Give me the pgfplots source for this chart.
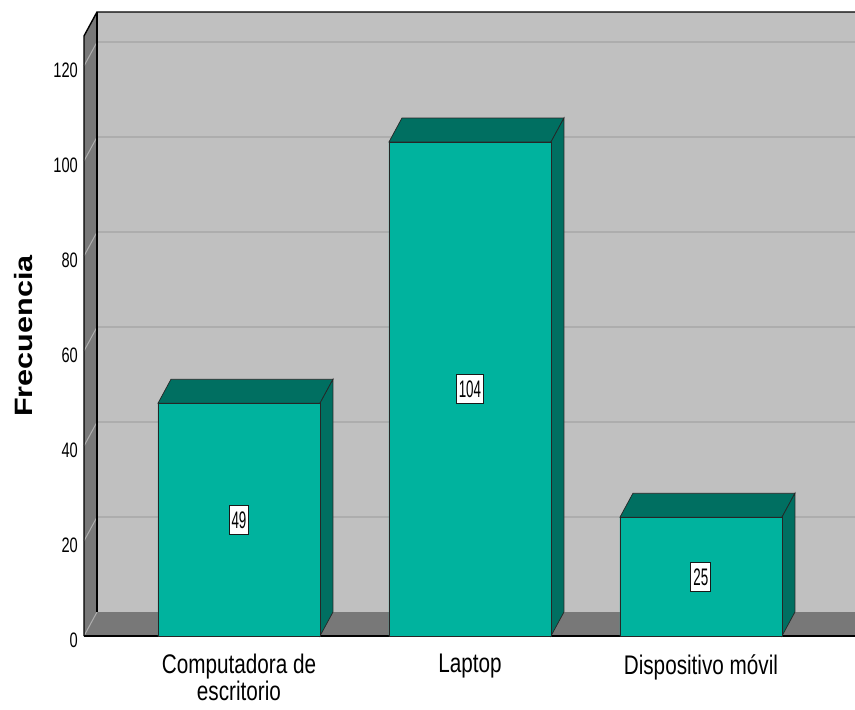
\documentclass[border=0pt]{standalone}
\usepackage{pgfplots}
\pgfplotsset{compat=1.18}
\usepackage{fontspec}
\setmainfont{Liberation Sans}
\newfontfamily\tickfont[FakeStretch=0.70]{Liberation Sans}
\newfontfamily\catfont[FakeStretch=0.77]{Liberation Sans}
\newfontfamily\valfont[FakeStretch=0.56]{Liberation Sans}

\definecolor{barfront}{HTML}{00B39E}
\definecolor{bardark}{HTML}{006F61}
\definecolor{wall}{HTML}{C0C0C0}
\definecolor{walldark}{HTML}{787878}
\definecolor{gridc}{HTML}{ADADAD}

\begin{document}
\begin{tikzpicture}
\begin{axis}[
    scale only axis,
    width=771bp, height=624bp,
    xmin=-0.671, xmax=2.667,
    ymin=0, ymax=131.37,
    clip=false,
    axis line style={draw=none},
    major tick length=0pt,
    xtick={0,1,2},
    xticklabels={{Computadora de\\escritorio}, {Laptop}, {Dispositivo móvil}},
    xticklabel style={font=\catfont\fontsize{27}{27}\selectfont, align=center,
        anchor=north, inner sep=0pt, yshift=-18bp},
    ytick={0,20,...,120},
    /pgf/number format/assume math mode=true,
    yticklabel style={font=\tickfont\fontsize{21}{22}\selectfont, anchor=east,
        inner sep=0pt, xshift=-6bp, yshift=-4bp},
]
% back wall, side wall and floor (depth offset: 0.0563 in x, 5.05 in y)
\fill[wall] (axis cs:-0.6147,5.05) rectangle (axis cs:2.667,131.37);
\fill[walldark] (axis cs:-0.671,0) -- (axis cs:-0.6147,5.05) -- (axis cs:-0.6147,131.37)
    -- (axis cs:-0.671,126.32) -- cycle;
\fill[walldark] (axis cs:-0.671,0) -- (axis cs:2.667,0) -- (axis cs:2.667,5.05)
    -- (axis cs:-0.6147,5.05) -- cycle;
% grid on the walls
\pgfplotsinvokeforeach{0,20,40,60,80,100,120}{
  \draw[gridc, line width=1bp] (axis cs:-0.671,#1) -- (axis cs:-0.6147,#1+5.05);
}
\pgfplotsinvokeforeach{20,40,60,80,100,120}{
  \draw[gridc, line width=1.2bp] (axis cs:-0.6147,#1+5.05) -- (axis cs:2.667,#1+5.05);
}
% frame edges
\draw[black, line width=1.4bp] (axis cs:-0.671,0) -- (axis cs:-0.671,126.32)
    -- (axis cs:-0.6147,131.37) -- (axis cs:2.667,131.37);
\draw[black, line width=1.4bp] (axis cs:-0.6147,5.05) -- (axis cs:-0.6147,131.37);
\draw[black, line width=1.4bp] (axis cs:-0.671,0) -- (axis cs:2.667,0);

% top and side faces of the bars
\addplot[fill=bardark, draw=black!85, line width=0.7bp] coordinates
  {(-0.3507,49) (-0.2944,54.05) (0.4070,54.05) (0.3507,49)} -- cycle;
\addplot[fill=bardark, draw=black!85, line width=0.7bp] coordinates
  {(0.3507,0) (0.4070,5.05) (0.4070,54.05) (0.3507,49)} -- cycle;
\addplot[fill=bardark, draw=black!85, line width=0.7bp] coordinates
  {(0.6493,104) (0.7056,109.05) (1.4070,109.05) (1.3507,104)} -- cycle;
\addplot[fill=bardark, draw=black!85, line width=0.7bp] coordinates
  {(1.3507,0) (1.4070,5.05) (1.4070,109.05) (1.3507,104)} -- cycle;
\addplot[fill=bardark, draw=black!85, line width=0.7bp] coordinates
  {(1.6493,25) (1.7056,30.05) (2.4070,30.05) (2.3507,25)} -- cycle;
\addplot[fill=bardark, draw=black!85, line width=0.7bp] coordinates
  {(2.3507,0) (2.4070,5.05) (2.4070,30.05) (2.3507,25)} -- cycle;

% front faces
\addplot[ybar, bar width=0.7013, fill=barfront, draw=black!85, line width=0.7bp]
  coordinates {(0,49) (1,104) (2,25)};

% value labels at mid height
\addplot[only marks, mark=none, point meta=explicit,
    nodes near coords,
    every node near coord/.style={anchor=center, fill=white, draw=black!90,
        line width=1bp, font=\valfont\fontsize{24}{26}\selectfont,
        inner xsep=2.5bp, inner ysep=6bp, text height=17bp, text depth=0pt}]
  coordinates {(0,24.5)[49] (1,52)[104] (2,12.5)[25]};
\end{axis}
\node[rotate=90, font=\bfseries\fontsize{30.7}{32}\selectfont]
  at ([xshift=-60bp,yshift=300bp]current axis.south west) {\scalebox{1}[0.82]{Frecuencia}};
\pgfresetboundingbox
\path ([xshift=-84bp,yshift=-74bp]current axis.south west) rectangle ([yshift=12bp]current axis.north east);
\end{tikzpicture}
\end{document}
